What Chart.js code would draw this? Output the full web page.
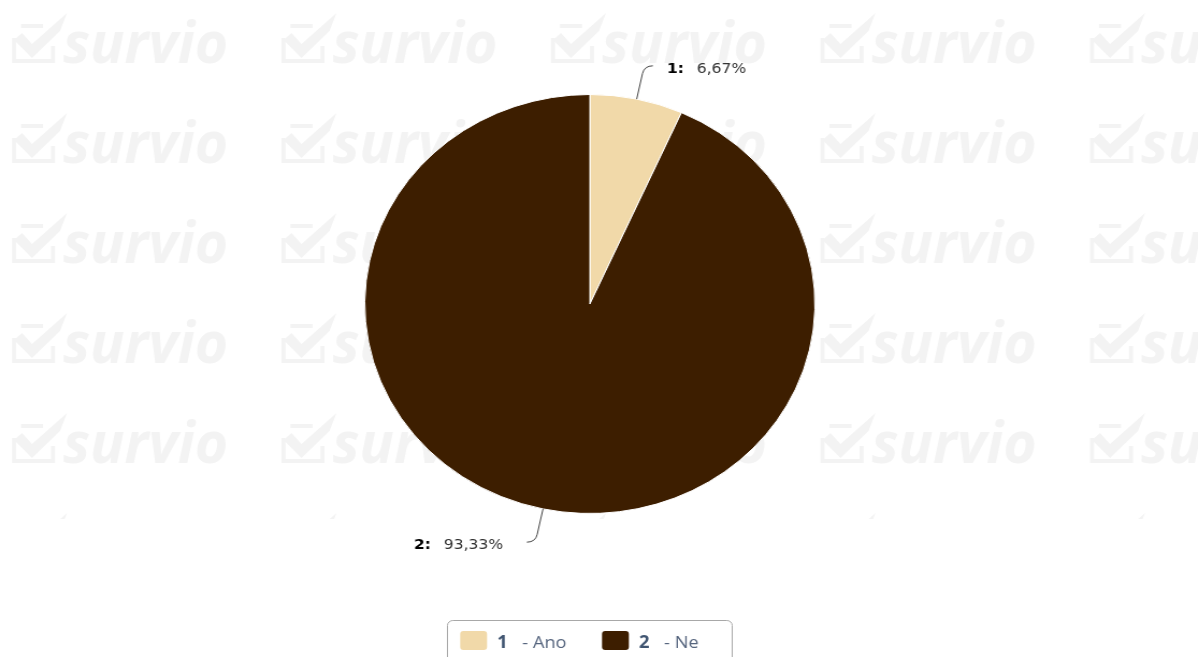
<!DOCTYPE html>
<html>
<head>
<meta charset="utf-8">
<script src="https://cdn.jsdelivr.net/npm/chart.js@4.4.1/dist/chart.umd.min.js"></script>
<style>
html, body { margin: 0; padding: 0; background: #fff; overflow: hidden; }
#wrap { width: 1115px; height: 657px; transform: scaleX(1.0744); transform-origin: 0 0; }
</style>
</head>
<body>
<div id="wrap"><canvas id="grafico"></canvas></div>
<script>
// datos
const categorias = ['1', '2'];
const nombres = ['Ano', 'Ne'];
const valores = [6.67, 93.33];
const etiquetas = ['6,67%', '93,33%'];
const colores = ['#f1d9a9', '#3d1e00'];

// la imagen original esta estirada en horizontal
const ESTIRA = 1.0744;

// marca de agua "survio" de fondo
const marcaAgua = {
    id: 'marcaAgua',
    beforeDraw(chart) {
        const ctx = chart.ctx;
        ctx.save();
        ctx.beginPath();
        ctx.rect(0, 0, chart.width, 519);
        ctx.clip();
        ctx.scale(1 / ESTIRA, 1);
        ctx.fillStyle = '#f3f3f3';
        ctx.strokeStyle = '#f3f3f3';
        ctx.font = 'italic bold 58px "Open Sans"';
        const anchoTexto = ctx.measureText('survio').width;
        for (let fila = 0; fila < 6; fila++) {
            for (let col = 0; col < 5; col++) {
                const x = 13 + col * 269.5, y = fila * 100;
                // cajita
                ctx.lineWidth = 4;
                ctx.beginPath();
                ctx.moveTo(x + 30, y + 26);
                ctx.lineTo(x + 8, y + 26);
                ctx.moveTo(x + 1, y + 38);
                ctx.lineTo(x + 1, y + 61);
                ctx.lineTo(x + 40, y + 61);
                ctx.lineTo(x + 40, y + 46);
                ctx.stroke();
                // tilde
                ctx.beginPath();
                ctx.moveTo(x + 1, y + 40);
                ctx.lineTo(x + 9, y + 33);
                ctx.lineTo(x + 19, y + 44);
                ctx.lineTo(x + 54, y + 13);
                ctx.lineTo(x + 47, y + 31);
                ctx.lineTo(x + 19, y + 58);
                ctx.closePath();
                ctx.fill();
                // texto
                ctx.save();
                ctx.translate(x + 50, y + 63);
                ctx.scale(165 / anchoTexto, 1);
                ctx.fillText('survio', 0, 0);
                ctx.restore();
            }
        }
        ctx.restore();
    }
};

// etiquetas con linea conectora
const etiquetasPie = {
    id: 'etiquetasPie',
    afterDatasetsDraw(chart) {
        const ctx = chart.ctx;
        const meta = chart.getDatasetMeta(0);
        meta.data.forEach((arc, i) => {
            const p = arc.getProps(['x', 'y', 'startAngle', 'endAngle', 'outerRadius'], true);
            const a = (p.startAngle + p.endAngle) / 2;
            const cos = Math.cos(a), sin = Math.sin(a);
            const lado = cos >= 0 ? 1 : -1;
            const r = p.outerRadius;
            const p0 = { x: p.x + cos * r, y: p.y + sin * r };
            const p1 = { x: p.x + cos * (r + 26), y: p.y + sin * (r + 26) };
            const pc = { x: p.x + cos * (r + 34), y: p.y + sin * (r + 34) };
            const pf = { x: pc.x + lado * 8, y: pc.y };

            ctx.save();
            ctx.strokeStyle = '#444';
            ctx.lineWidth = 1;
            ctx.beginPath();
            ctx.moveTo(p0.x, p0.y);
            ctx.lineTo(p1.x, p1.y);
            ctx.quadraticCurveTo(pc.x, pc.y, pf.x, pf.y);
            ctx.stroke();

            const negrita = 'bold 14.5px "DejaVu Sans"';
            const normal = '14.5px "DejaVu Sans"';
            const titulo = categorias[i] + ':';
            ctx.font = negrita;
            const w1 = ctx.measureText(titulo).width;
            ctx.font = normal;
            const w2 = ctx.measureText(etiquetas[i]).width;
            const total = w1 + 12 + w2;
            const x0 = lado > 0 ? pf.x + 13 : pf.x - 22 - total;
            const ty = pf.y + 3;
            ctx.textBaseline = 'middle';
            ctx.textAlign = 'left';
            ctx.font = negrita;
            ctx.fillStyle = '#000';
            ctx.fillText(titulo, x0, ty);
            ctx.font = normal;
            ctx.fillStyle = '#333';
            ctx.fillText(etiquetas[i], x0 + w1 + 12, ty);
            ctx.restore();
        });
    }
};

// leyenda con recuadro redondeado abajo
const leyenda = {
    id: 'leyenda',
    afterDraw(chart) {
        const ctx = chart.ctx;
        ctx.save();
        ctx.strokeStyle = '#a8a8a8';
        ctx.lineWidth = 1;
        ctx.beginPath();
        ctx.roundRect(416.5, 620.5, 265, 60, 5);
        ctx.stroke();

        let x = 428.3;
        categorias.forEach((cat, i) => {
            ctx.fillStyle = colores[i];
            ctx.beginPath();
            ctx.roundRect(x, 631, 25, 19, 3);
            ctx.fill();
            x += 25 + 9.5;
            ctx.font = 'bold 17px "Open Sans"';
            ctx.fillStyle = '#3f5470';
            ctx.textBaseline = 'alphabetic';
            ctx.fillText(cat, x, 647.5);
            x += ctx.measureText(cat).width + 13.5;
            ctx.font = '17px "Open Sans"';
            ctx.fillStyle = '#56657e';
            const txt = '- ' + nombres[i];
            ctx.fillText(txt, x, 647.5);
            x += ctx.measureText(txt).width + 33;
        });
        ctx.restore();
    }
};

const ctx = document.getElementById('grafico').getContext('2d');
const grafico = new Chart(ctx, {
    type: 'pie',
    data: {
        labels: categorias,
        datasets: [{
            data: valores,
            backgroundColor: colores,
            borderColor: '#ffffff',
            borderWidth: 1
        }]
    },
    options: {
        responsive: true,
        maintainAspectRatio: false,
        animation: false,
        events: [],
        layout: {
            padding: { top: 94, bottom: 143, left: 299, right: 316 }
        },
        plugins: {
            legend: { display: false },
            tooltip: { enabled: false }
        }
    },
    plugins: [marcaAgua, etiquetasPie, leyenda]
});
</script>
</body>
</html>
